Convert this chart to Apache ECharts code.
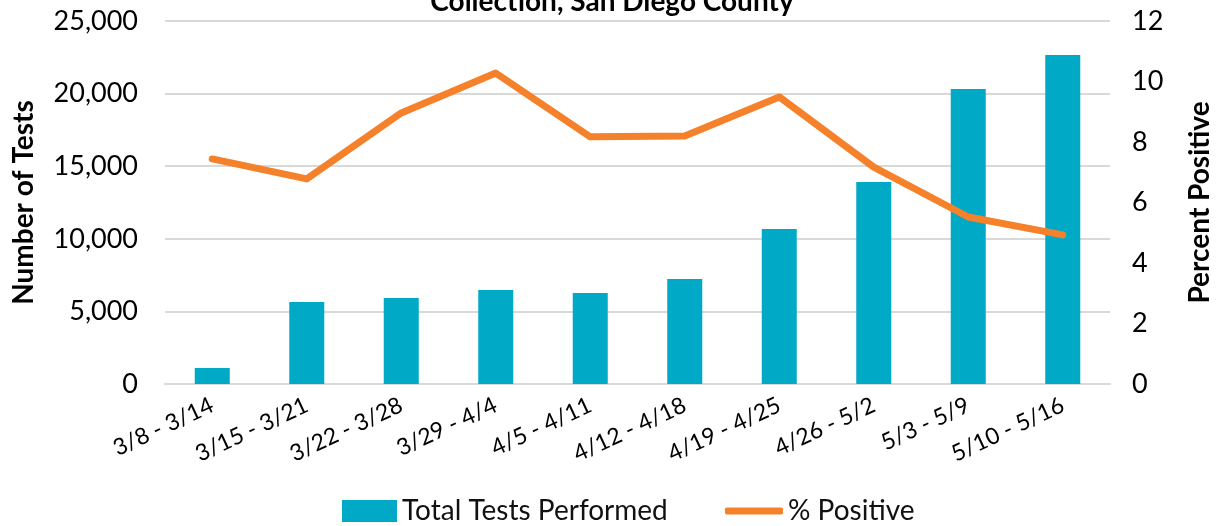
<!DOCTYPE html>
<html>
<head>
<meta charset="utf-8">
<script src="https://cdn.jsdelivr.net/npm/echarts@6/dist/echarts.min.js"></script>
<style>
  html, body { margin: 0; padding: 0; background: #fff; }
  #chart { width: 1224px; height: 526px; }
</style>
</head>
<body>
<div id="chart"></div>
<script>
const weeks = ['3/8 - 3/14', '3/15 - 3/21', '3/22 - 3/28', '3/29 - 4/4', '4/5 - 4/11',
  '4/12 - 4/18', '4/19 - 4/25', '4/26 - 5/2', '5/3 - 5/9', '5/10 - 5/16']
const totalTests = [1100, 5650, 5920, 6470, 6270, 7230, 10670, 13910, 20320, 22660]
const pctPositive = [7.44, 6.78, 8.96, 10.28, 8.17, 8.2, 9.49, 7.17, 5.52, 4.93]

const font = 'Lato, "Open Sans", sans-serif'
const barColor = '#00A9C6'
const lineColor = '#F5812A'
const chart = echarts.init(document.getElementById('chart'))

chart.setOption({
  animation: false,
  textStyle: { fontFamily: font },
  title: {
    text: 'Collection, San Diego County',
    left: 'center',
    top: -17,
    textStyle: { fontSize: 28, fontWeight: 'bold', color: '#000', fontFamily: font }
  },
  legend: [
    {
      left: 337,
      bottom: -4,
      itemWidth: 55,
      itemHeight: 22,
      itemGap: 6,
      textStyle: { fontSize: 28, color: '#111' },
      data: [{ name: 'Total Tests Performed', icon: 'rect' }]
    },
    {
      left: 720,
      bottom: -4,
      itemWidth: 58,
      itemHeight: 7,
      itemGap: 2,
      textStyle: { fontSize: 28, color: '#111' },
      data: [{ name: '% Positive', icon: 'roundRect' }]
    }
  ],
  grid: { left: 165, right: 114, top: 21, bottom: 142 },
  xAxis: {
    type: 'category',
    data: weeks,
    axisLine: { lineStyle: { color: '#d9d9d9', width: 2 } },
    axisTick: { show: false },
    axisLabel: { rotate: 25, fontSize: 23, color: '#000', margin: 20, interval: 0 }
  },
  yAxis: [
    {
      type: 'value',
      min: 0, max: 25000, interval: 5000,
      name: 'Number of Tests',
      nameLocation: 'middle',
      nameGap: 127,
      nameTextStyle: { fontSize: 28, fontWeight: 'bold', color: '#000' },
      axisLabel: { fontSize: 27, color: '#000', margin: 27,
        formatter: v => v.toLocaleString('en-US') },
      splitLine: { lineStyle: { color: '#d9d9d9', width: 2 } },
      axisLine: { show: false }, axisTick: { show: false }
    },
    {
      type: 'value',
      min: 0, max: 12, interval: 2,
      name: 'Percent Positive',
      nameLocation: 'middle',
      nameGap: 76,
      nameRotate: 90,
      nameTextStyle: { fontSize: 28, fontWeight: 'bold', color: '#000' },
      axisLabel: { fontSize: 27, color: '#000', margin: 22 },
      splitLine: { show: false },
      axisLine: { show: false }, axisTick: { show: false }
    }
  ],
  series: [
    {
      name: 'Total Tests Performed',
      type: 'bar',
      data: totalTests,
      barWidth: 35,
      itemStyle: { color: barColor }
    },
    {
      name: '% Positive',
      type: 'line',
      yAxisIndex: 1,
      data: pctPositive,
      symbol: 'none',
      lineStyle: { color: lineColor, width: 7, cap: 'round', join: 'round' },
      itemStyle: { color: lineColor }
    }
  ]
})
</script>
</body>
</html>
